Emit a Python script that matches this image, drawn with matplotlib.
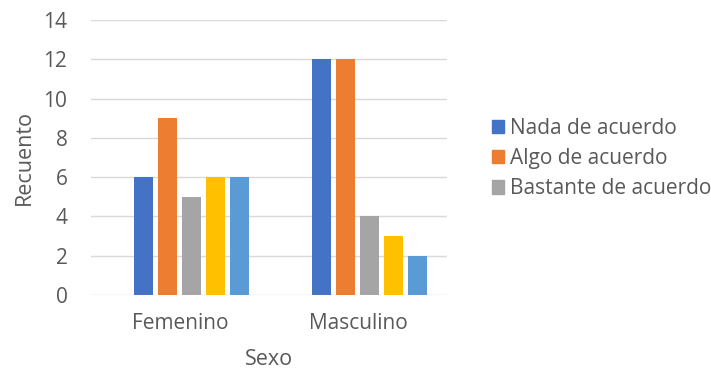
import matplotlib
matplotlib.use("Agg")
import matplotlib.pyplot as plt
import numpy as np
from matplotlib.patches import Patch

categories = ["Femenino", "Masculino"]
series_names = ["Nada de acuerdo", "Algo de acuerdo", "Bastante de acuerdo",
                "Muy de acuerdo", "Totalmente de acuerdo"]
values = {
    "Nada de acuerdo": [6, 12],
    "Algo de acuerdo": [9, 12],
    "Bastante de acuerdo": [5, 4],
    "Muy de acuerdo": [6, 3],
    "Totalmente de acuerdo": [6, 2],
}
colors = ["#4472C4", "#ED7D31", "#A5A5A5", "#FFC000", "#5B9BD5"]
yticks = [0, 2, 4, 6, 8, 10, 12, 14]

plt.rcParams['font.family'] = ['Open Sans', 'DejaVu Sans']
text_color = "#595959"

fig = plt.figure(figsize=(7.11, 3.69), dpi=100)
ax = fig.add_axes([0.128, 0.2005, 0.501, 0.7455])

x = np.arange(len(categories))
bw = 0.107
step = 0.135
shift = 0.064
for i, name in enumerate(series_names):
    pos = x + shift + (i - 2) * step
    ax.bar(pos, values[name], width=bw, color=colors[i], zorder=3)

ax.set_xlim(-0.5, 1.5)
ax.set_ylim(0, 14)
ax.set_yticks(yticks)
ax.set_xticks(x)
ax.set_xticklabels(categories)
ax.grid(axis='y', color="#D9D9D9", linewidth=1, zorder=0)
for s in ax.spines.values():
    s.set_visible(False)
ax.tick_params(axis='both', length=0, labelsize=15, colors=text_color)
ax.tick_params(axis='x', pad=13)
ax.tick_params(axis='y', pad=17)
ax.set_xlabel("Sexo", fontsize=15.5, color=text_color, labelpad=10.5)
ax.set_ylabel("Recuento", fontsize=15.5, color=text_color, labelpad=6)

handles = [Patch(color=colors[i]) for i in range(3)]
fig.legend(handles, series_names[:3], loc='upper left',
           bbox_to_anchor=(0.665, 0.732), frameon=False, fontsize=15,
           labelcolor=text_color, handlelength=0.6, handleheight=0.6,
           handletextpad=0.3, labelspacing=0.45)

fig.savefig("out.png", dpi=100)
